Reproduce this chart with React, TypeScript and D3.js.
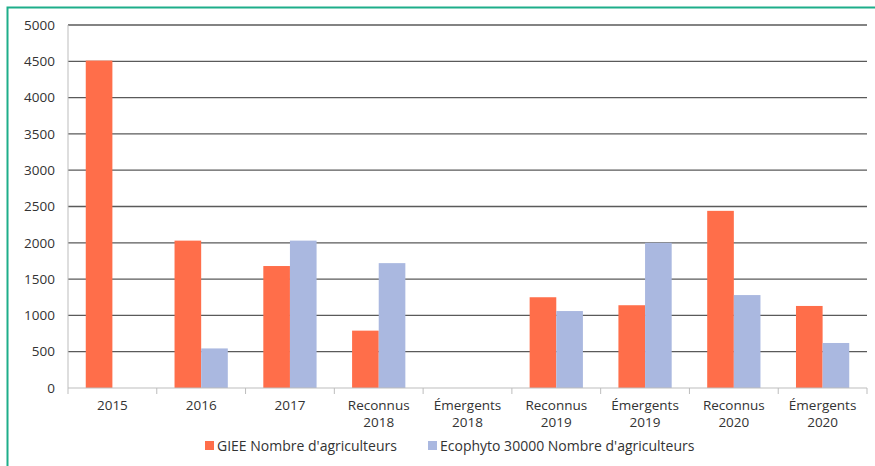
import * as d3 from "d3";
import { useEffect, useRef } from "react";

const categories = [
  "2015",
  "2016",
  "2017",
  "Reconnus 2018",
  "Émergents 2018",
  "Reconnus 2019",
  "Émergents 2019",
  "Reconnus 2020",
  "Émergents 2020",
];
const giee = [4510, 2030, 1680, 790, 0, 1250, 1140, 2440, 1130];
const ecophyto = [0, 545, 2030, 1720, 0, 1060, 2000, 1280, 620];
const seriesNames = ["GIEE Nombre d'agriculteurs", "Ecophyto 30000 Nombre d'agriculteurs"];
const yTicks = [0, 500, 1000, 1500, 2000, 2500, 3000, 3500, 4000, 4500, 5000];

const width = 875;
const height = 466;
const colors = ["#FF6E4A", "#AAB8E0"];
const font = "'Open Sans', sans-serif";

export default function App() {
  const ref = useRef<SVGSVGElement | null>(null);

  useEffect(() => {
    document.body.style.margin = "0";
    const svg = d3.select(ref.current);
    svg.selectAll("*").remove();

    const left = 68;
    const right = 867;
    const top = 25;
    const bottom = 388;

    // cadre vert
    svg
      .append("rect")
      .attr("x", 7.5)
      .attr("y", 7.5)
      .attr("width", 900)
      .attr("height", 500)
      .attr("fill", "none")
      .attr("stroke", "#1EAE8A")
      .attr("stroke-width", 2);

    const x = d3.scaleBand<string>().domain(categories).range([left, right]);
    const y = d3.scaleLinear().domain([0, 5000]).range([bottom, top]);
    const barW = x.bandwidth() * 0.3;

    // grille
    svg
      .append("g")
      .selectAll("line")
      .data(yTicks.filter((t) => t > 0))
      .join("line")
      .attr("x1", left)
      .attr("x2", right)
      .attr("y1", (d) => y(d))
      .attr("y2", (d) => y(d))
      .attr("stroke", "#5a5a5a")
      .attr("stroke-width", 1.3);

    // labels y
    svg
      .append("g")
      .selectAll("text")
      .data(yTicks)
      .join("text")
      .attr("x", 55)
      .attr("y", (d) => y(d))
      .attr("dy", "0.35em")
      .attr("text-anchor", "end")
      .attr("font-family", font)
      .attr("font-size", 13.5)
      .attr("fill", "#333")
      .text((d) => d);

    // barres
    const series = [giee, ecophyto];
    series.forEach((vals, si) => {
      svg
        .append("g")
        .selectAll("rect")
        .data(vals)
        .join("rect")
        .attr("x", (_, i) => x(categories[i])! + x.bandwidth() / 2 - barW + si * barW)
        .attr("y", (d) => y(d))
        .attr("width", barW)
        .attr("height", (d) => bottom - y(d))
        .attr("fill", colors[si]);
    });

    // axes
    svg
      .append("line")
      .attr("x1", left)
      .attr("x2", left)
      .attr("y1", top)
      .attr("y2", bottom)
      .attr("stroke", "#bdbdbd")
      .attr("stroke-width", 1);
    svg
      .append("line")
      .attr("x1", left)
      .attr("x2", right)
      .attr("y1", bottom)
      .attr("y2", bottom)
      .attr("stroke", "#bdbdbd")
      .attr("stroke-width", 1);
    svg
      .append("g")
      .selectAll("line")
      .data(categories.map((c) => x(c)!).concat([right]))
      .join("line")
      .attr("x1", (d) => d)
      .attr("x2", (d) => d)
      .attr("y1", bottom)
      .attr("y2", bottom + 6)
      .attr("stroke", "#bdbdbd");

    // labels x (deux lignes, un <text> par ligne)
    const xlGroup = svg.append("g");
    categories.forEach((d) => {
      d.split(" ").forEach((p, i) => {
        xlGroup
          .append("text")
          .attr("x", x(d)! + x.bandwidth() / 2)
          .attr("y", 410 + i * 17)
          .attr("text-anchor", "middle")
          .attr("font-family", font)
          .attr("font-size", 13.5)
          .attr("fill", "#333")
          .text(p);
      });
    });

    // légende
    const legendX = [205, 428];
    seriesNames.forEach((name, i) => {
      const g = svg.append("g").attr("transform", `translate(${legendX[i]},446)`);
      g.append("rect")
        .attr("x", 0)
        .attr("y", -5)
        .attr("width", 9)
        .attr("height", 9)
        .attr("fill", colors[i]);
      g.append("text")
        .attr("x", 12)
        .attr("y", 0)
        .attr("dy", "0.35em")
        .attr("font-family", font)
        .attr("font-size", 14)
        .attr("fill", "#333")
        .text(name);
    });
  }, []);

  return <svg ref={ref} width={width} height={height} style={{ display: "block" }} />;
}
